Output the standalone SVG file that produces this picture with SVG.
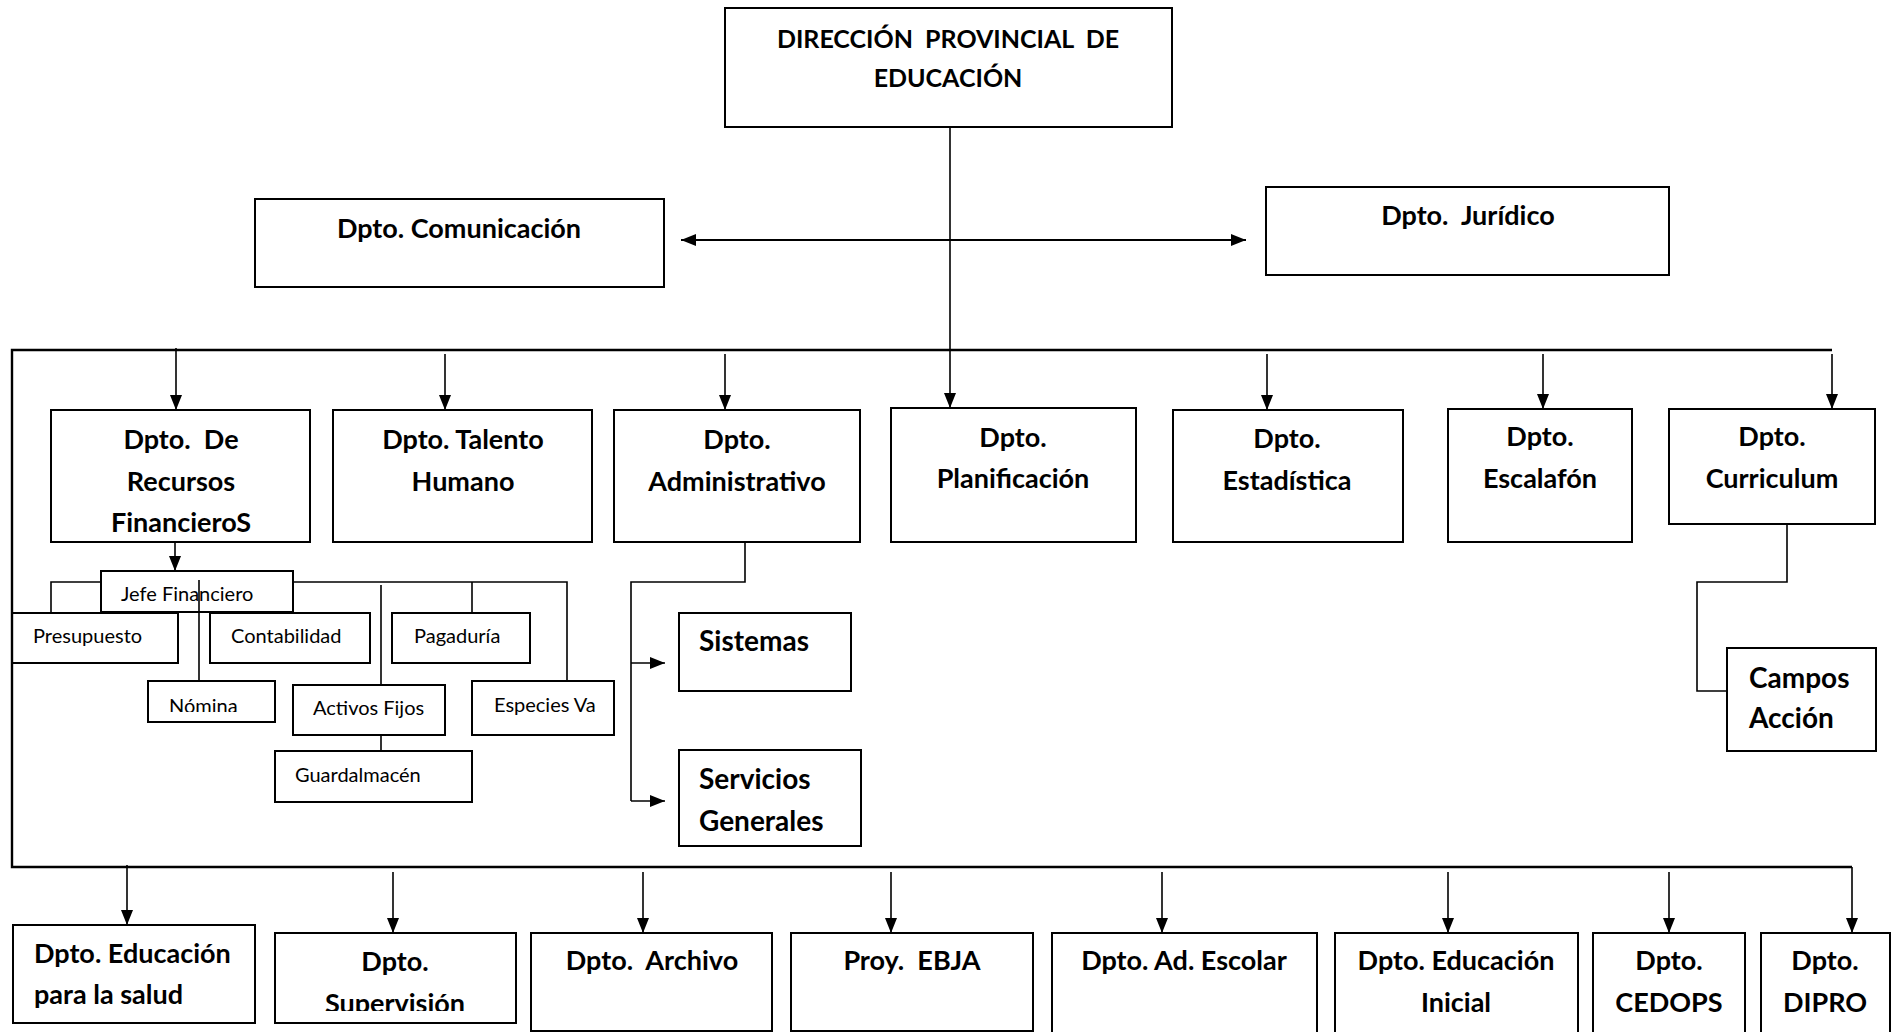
<svg xmlns="http://www.w3.org/2000/svg" width="1901" height="1032" viewBox="0 0 1901 1032">
<style>
.box{fill:#fff;stroke:#000;stroke-width:2}
.sbox{fill:#fff;stroke:#000;stroke-width:2}
text{white-space:pre}
.t{font-family:Lato,"Liberation Sans",sans-serif;font-weight:bold;font-size:27px;fill:#000}
.tc{text-anchor:middle}
.ti{font-family:Lato,"Liberation Sans",sans-serif;font-weight:bold;font-size:25px;fill:#000;text-anchor:middle}
.tb{font-family:Lato,"Liberation Sans",sans-serif;font-weight:bold;font-size:28px;fill:#000}
.ts{font-family:Lato,"Liberation Sans",sans-serif;font-size:20px;fill:#000}
.ln{fill:none;stroke:#000;stroke-width:1.6}
.bus{fill:none;stroke:#000;stroke-width:2.4}
.ar{fill:none;stroke:#000;stroke-width:1.6;marker-end:url(#ah)}
</style>
<defs>
<marker id="ah" markerUnits="userSpaceOnUse" markerWidth="16" markerHeight="12" refX="15" refY="6" orient="auto-start-reverse" viewBox="0 0 16 12">
<path d="M0,0 L15,6 L0,12 z" fill="#000"/>
</marker>
<clipPath id="clipSup"><rect x="275" y="933" width="241" height="78"/></clipPath>
<clipPath id="clipNom"><rect x="148" y="681" width="127" height="31"/></clipPath>
</defs>

<g id="n-direccion">
<rect class="box" x="725" y="8" width="447" height="119"/>
<text class="ti" x="948" y="48" xml:space="preserve">DIRECCIÓN  PROVINCIAL  DE</text>
<text class="ti" x="948" y="87">EDUCACIÓN</text>
</g>
<g id="n-comunicacion">
<rect class="box" x="255" y="199" width="409" height="88"/>
<text class="t tc" x="459" y="238">Dpto. Comunicación</text>
</g>
<g id="n-juridico">
<rect class="box" x="1266" y="187" width="403" height="88"/>
<text class="t tc" x="1468" y="225" xml:space="preserve">Dpto.  Jurídico</text>
</g>

<g id="n-financieros">
<rect class="box" x="51" y="410" width="259" height="132"/>
<text class="t tc" x="181" y="449" xml:space="preserve">Dpto.  De</text>
<text class="t tc" x="181" y="491">Recursos</text>
<text class="t tc" x="181" y="532">FinancieroS</text>
</g>
<g id="n-talento">
<rect class="box" x="333" y="410" width="259" height="132"/>
<text class="t tc" x="463" y="449">Dpto. Talento</text>
<text class="t tc" x="463" y="491">Humano</text>
</g>
<g id="n-administrativo">
<rect class="box" x="614" y="410" width="246" height="132"/>
<text class="t tc" x="737" y="449">Dpto.</text>
<text class="t tc" x="737" y="491">Administrativo</text>
</g>
<g id="n-planificacion">
<rect class="box" x="891" y="408" width="245" height="134"/>
<text class="t tc" x="1013" y="447">Dpto.</text>
<text class="t tc" x="1013" y="488">Planificación</text>
</g>
<g id="n-estadistica">
<rect class="box" x="1173" y="410" width="230" height="132"/>
<text class="t tc" x="1287" y="448">Dpto.</text>
<text class="t tc" x="1287" y="490">Estadística</text>
</g>
<g id="n-escalafon">
<rect class="box" x="1448" y="409" width="184" height="133"/>
<text class="t tc" x="1540" y="446">Dpto.</text>
<text class="t tc" x="1540" y="488">Escalafón</text>
</g>
<g id="n-curriculum">
<rect class="box" x="1669" y="409" width="206" height="115"/>
<text class="t tc" x="1772" y="446">Dpto.</text>
<text class="t tc" x="1772" y="488">Curriculum</text>
</g>

<g id="n-jefe">
<rect class="sbox" x="101" y="571" width="192" height="41"/>
<text class="ts" x="121" y="601">Jefe Financiero</text>
</g>
<g id="n-presupuesto">
<rect class="sbox" x="12" y="613" width="166" height="50"/>
<text class="ts" x="33" y="643">Presupuesto</text>
</g>
<g id="n-contabilidad">
<rect class="sbox" x="210" y="613" width="160" height="50"/>
<text class="ts" x="231" y="643">Contabilidad</text>
</g>
<g id="n-pagaduria">
<rect class="sbox" x="392" y="613" width="138" height="50"/>
<text class="ts" x="414" y="643">Pagaduría</text>
</g>
<g id="n-nomina">
<rect class="sbox" x="148" y="681" width="127" height="41"/>
<text class="ts" x="169" y="713" clip-path="url(#clipNom)">Nómina</text>
</g>
<g id="n-activos">
<rect class="sbox" x="293" y="685" width="152" height="50"/>
<text class="ts" x="313" y="715">Activos Fijos</text>
</g>
<g id="n-especies">
<rect class="sbox" x="472" y="681" width="142" height="54"/>
<text class="ts" x="494" y="712">Especies Va</text>
</g>
<g id="n-guardalmacen">
<rect class="sbox" x="275" y="751" width="197" height="51"/>
<text class="ts" x="295" y="782">Guardalmacén</text>
</g>

<g id="n-sistemas">
<rect class="box" x="679" y="613" width="172" height="78"/>
<text class="tb" x="699" y="651">Sistemas</text>
</g>
<g id="n-servicios">
<rect class="box" x="679" y="750" width="182" height="96"/>
<text class="tb" x="699" y="789">Servicios</text>
<text class="tb" x="699" y="831">Generales</text>
</g>
<g id="n-campos">
<rect class="box" x="1727" y="648" width="149" height="103"/>
<text class="tb" x="1749" y="688">Campos</text>
<text class="tb" x="1749" y="728">Acción</text>
</g>

<g id="n-salud">
<rect class="box" x="13" y="925" width="242" height="98"/>
<text class="t" x="34" y="963">Dpto. Educación</text>
<text class="t" x="34" y="1004">para la salud</text>
</g>
<g id="n-supervision">
<rect class="box" x="275" y="933" width="241" height="90"/>
<text class="t tc" x="395" y="971">Dpto.</text>
<text class="t tc" x="395" y="1013" clip-path="url(#clipSup)">Supervisión</text>
</g>
<g id="n-archivo">
<rect class="box" x="531" y="933" width="241" height="98"/>
<text class="t tc" x="652" y="970" xml:space="preserve">Dpto.  Archivo</text>
</g>
<g id="n-ebja">
<rect class="box" x="791" y="933" width="242" height="98"/>
<text class="t tc" x="912" y="970" xml:space="preserve">Proy.  EBJA</text>
</g>
<g id="n-adescolar">
<rect class="box" x="1052" y="933" width="265" height="110"/>
<text class="t tc" x="1184" y="970">Dpto. Ad. Escolar</text>
</g>
<g id="n-inicial">
<rect class="box" x="1335" y="933" width="243" height="110"/>
<text class="t tc" x="1456" y="970">Dpto. Educación</text>
<text class="t tc" x="1456" y="1012">Inicial</text>
</g>
<g id="n-cedops">
<rect class="box" x="1593" y="933" width="152" height="110"/>
<text class="t tc" x="1669" y="970">Dpto.</text>
<text class="t tc" x="1669" y="1012">CEDOPS</text>
</g>
<g id="n-dipro">
<rect class="box" x="1761" y="933" width="129" height="110"/>
<text class="t tc" x="1825" y="970">Dpto.</text>
<text class="t tc" x="1825" y="1012">DIPRO</text>
</g>

<g id="connectors">
<path class="ar" d="M950,128 V408"/>
<path class="ln" d="M681,240 H1246" style="stroke-width:2;marker-start:url(#ah);marker-end:url(#ah)"/>
<path class="bus" d="M1832,350 H12 V867 H1852"/>
<path class="ar" d="M176,348 V410"/>
<path class="ar" d="M445,354 V410"/>
<path class="ar" d="M725,354 V410"/>
<path class="ar" d="M1267,354 V410"/>
<path class="ar" d="M1543,354 V409"/>
<path class="ar" d="M1832,354 V409"/>
<path class="ar" d="M127,865 V925"/>
<path class="ar" d="M393,872 V933"/>
<path class="ar" d="M643,872 V933"/>
<path class="ar" d="M891,872 V933"/>
<path class="ar" d="M1162,872 V933"/>
<path class="ar" d="M1448,872 V933"/>
<path class="ar" d="M1669,872 V933"/>
<path class="ar" d="M1852,867 V933"/>
<path class="ar" d="M175,542 V571"/>
<path class="ln" d="M51,613 V582 H101"/>
<path class="ln" d="M293,582 H567 V681"/>
<path class="ln" d="M472,582 V613"/>
<path class="ln" d="M199,580 V681"/>
<path class="ln" d="M381,585 V685"/>
<path class="ln" d="M381,735 V751"/>
<path class="ln" d="M745,543 V582 H631 V801"/>
<path class="ar" d="M631,663 H665"/>
<path class="ar" d="M631,801 H665"/>
<path class="ln" d="M1787,524 V582 H1697 V691 H1727"/>
</g>
</svg>
